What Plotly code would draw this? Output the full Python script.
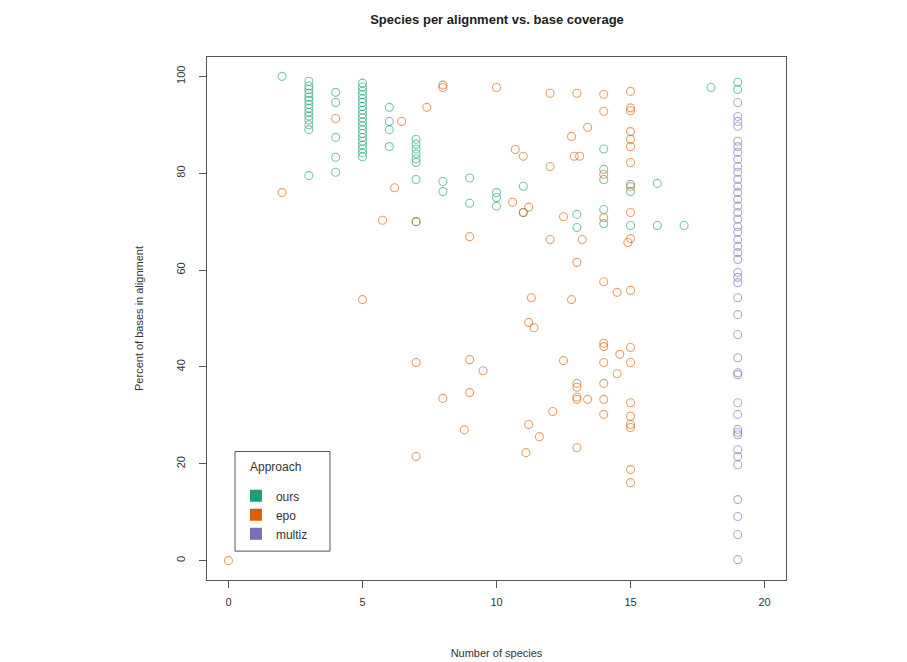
import plotly.graph_objects as go

# ---- data ----
ours_x = [2,
          3, 3, 3, 3, 3, 3, 3, 3, 3, 3, 3, 3, 3, 3,
          4, 4, 4, 4, 4,
          5, 5, 5, 5, 5, 5, 5, 5, 5, 5, 5, 5, 5, 5, 5, 5, 5, 5, 5, 5,
          6, 6, 6, 6,
          7, 7, 7, 7, 7, 7, 7, 7,
          8, 8, 9, 9, 10, 10, 10, 11, 11, 13, 13,
          14, 14, 14, 14, 14, 15, 15, 15, 16, 16, 17, 18, 19, 19]
ours_y = [100,
          99, 98, 97.3, 96.5, 95.7, 95, 94.2, 93.4, 92.6, 91.8, 91, 90, 89, 79.5,
          96.7, 94.6, 87.4, 83.3, 80.2,
          98.6, 97.8, 97, 96.2, 95.4, 94.6, 93.8, 93, 92.2, 91.4, 90.6, 89.8, 89,
          88.2, 87.4, 86.6, 85.8, 85, 84.2, 83.4,
          93.6, 90.7, 89, 85.5,
          87, 86, 85, 84, 83, 82.2, 78.7, 70,
          78.3, 76.2, 79, 73.8, 76, 75, 73.2, 77.3, 71.9, 71.5, 68.8,
          85, 80.8, 78.7, 72.5, 69.6, 77.7, 76.2, 69.2, 77.9, 69.2, 69.2, 97.7, 98.8, 97.3]

epo_x = [0, 2, 4, 5, 5.75, 6.2, 6.46, 7, 7, 7, 7.4, 8, 8, 8, 8.8, 9, 9, 9, 9.5,
         10, 10.6, 10.7, 11, 11, 11.2, 11.1, 11.2, 11.2, 11.4, 11.3, 11.6,
         12, 12, 12, 12.1, 12.5, 12.5, 12.8, 12.8, 12.9, 13.1, 13, 13.2, 13,
         13, 13, 13, 13, 13, 13.4, 13.4,
         14, 14, 14, 14, 14, 14, 14, 14, 14, 14, 14, 14.5, 14.5, 14.6, 14.9,
         15, 15, 15, 15, 15, 15, 15, 15, 15, 15, 15, 15, 15, 15, 15, 15, 15, 15, 15]
epo_y = [0, 76, 91.3, 53.9, 70.3, 77, 90.7, 70, 40.9, 21.5, 93.6, 97.7, 98.2, 33.5,
         27, 66.9, 41.5, 34.7, 39.2,
         97.7, 74, 84.9, 83.5, 71.9, 73, 22.3, 28.1, 49.2, 48.1, 54.3, 25.6,
         96.5, 81.4, 66.3, 30.8, 71, 41.3, 87.6, 53.9, 83.5, 83.5, 96.5, 66.3, 61.6,
         36.6, 35.8, 33.8, 33.3, 23.3, 89.5, 33.3,
         96.3, 92.8, 79.8, 70.8, 57.6, 44.9, 44.2, 40.9, 36.6, 33.3, 30.2, 55.4,
         38.6, 42.6, 65.7,
         96.9, 93.5, 92.9, 88.6, 87, 85.5, 82.2, 77.2, 71.9, 66.5, 55.8, 44, 40.9,
         32.6, 29.8, 28.1, 27.5, 18.8, 16.1]

multiz_y = [94.6, 91.7, 90.7, 89.7, 86.6, 85.5, 84.3, 82.9, 81.4, 80.2, 78.7, 77.3,
            76, 74.6, 73.2, 71.9, 70.5, 69, 67.8, 66.3, 64.9, 63.6, 62.2, 59.5,
            58.5, 57.4, 54.3, 50.8, 46.7, 41.9, 38.8, 38.4, 32.6, 30.2, 27.1, 26.5,
            26, 22.9, 21.5, 19.8, 12.6, 9.1, 5.4, 0.2]
multiz_x = [19] * len(multiz_y)

series_names = ["ours", "epo", "multiz"]
series_colors = ["#1B9E77", "#D95F02", "#7570B3"]
x_ticks = [0, 5, 10, 15, 20]
y_ticks = [0, 20, 40, 60, 80, 100]

FONT = "Liberation Sans, Arial, sans-serif"

fig = go.Figure()
for name, xs, ys, col in zip(series_names,
                             [ours_x, epo_x, multiz_x],
                             [ours_y, epo_y, multiz_y],
                             series_colors):
    fig.add_trace(go.Scatter(
        x=xs, y=ys, mode="markers", name=name, showlegend=False,
        marker=dict(symbol="circle-open", size=8, color=col,
                    line=dict(width=1.1), opacity=0.6),
        hoverinfo="x+y"))

# legend entries (filled squares)
for name, col in zip(series_names, series_colors):
    fig.add_trace(go.Scatter(
        x=[None], y=[None], mode="markers", name=name,
        marker=dict(symbol="square", size=10, color=col)))

# page has an 8px body margin, compensate
fig.update_layout(
    width=907, height=662,
    margin=dict(l=199, r=129, t=49, b=88),
    paper_bgcolor="white", plot_bgcolor="white",
    font=dict(family=FONT, size=11, color="#333"),
    title=dict(text="<b>Species per alignment vs. base coverage</b>",
               x=489 / 907, xanchor="center",
               y=1 - 11 / 662, yanchor="middle",
               font=dict(size=13, color="#222", family=FONT)),
    showlegend=True,
    legend=dict(x=0.050, y=0.1886, xanchor="left", yanchor="top",
                borderwidth=0, bgcolor="rgba(0,0,0,0)",
                font=dict(size=12), itemsizing="constant",
                tracegroupgap=0),
    annotations=[dict(text="Approach", xref="paper", yref="paper",
                      x=0.0708, y=0.217, xanchor="left", yanchor="middle",
                      showarrow=False, font=dict(size=12, color="#333"))],
    shapes=[dict(type="rect", xref="paper", yref="paper",
                 x0=0.0484, x1=0.2124, y0=0.0552, y1=0.2457,
                 line=dict(color="#555", width=1), fillcolor="rgba(0,0,0,0)",
                 layer="above")],
)
fig.update_xaxes(
    range=[-0.8, 20.8], tickvals=x_ticks, ticks="outside", ticklen=7,
    tickcolor="#555", showgrid=False, zeroline=False, ticklabelstandoff=5,
    showline=True, linecolor="#555", linewidth=1, mirror=True,
    title=dict(text="Number of species", standoff=42, font=dict(size=11)),
    tickfont=dict(size=11))
fig.update_yaxes(
    range=[-4, 104], tickvals=y_ticks, ticks="outside", ticklen=7,
    tickcolor="#555", showgrid=False, zeroline=False, tickangle=-90,
    ticklabelstandoff=10,
    showline=True, linecolor="#555", linewidth=1, mirror=True,
    title=dict(text="Percent of bases in alignment", standoff=28, font=dict(size=11)),
    tickfont=dict(size=11))

fig.write_html("out.html")
